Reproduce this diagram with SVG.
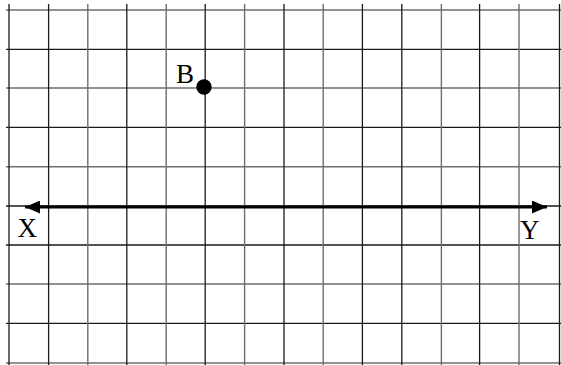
<svg xmlns="http://www.w3.org/2000/svg" width="561" height="365" viewBox="0 0 561 365">
<style>
.d{stroke:#1a1a1a;stroke-width:1.3}
.g{stroke:#6e6e6e;stroke-width:1.4}
.lbl{font-family:"Liberation Serif",serif;font-size:27px;fill:#000}
</style>
<defs>
<marker id="ah" markerWidth="16" markerHeight="13" refX="15" refY="6.5" orient="auto-start-reverse" markerUnits="userSpaceOnUse">
<path d="M0,0 L15,6.5 L0,13 Z" fill="#000"/>
</marker>
</defs>
<rect width="561" height="365" fill="#fff"/>
<g id="grid">
<line class="g" x1="6" y1="10" x2="561" y2="10"/>
<line class="d" x1="6" y1="49.3" x2="561" y2="49.3"/>
<line class="g" x1="6" y1="88" x2="561" y2="88"/>
<line class="d" x1="6" y1="127.3" x2="561" y2="127.3"/>
<line class="g" x1="6" y1="166.7" x2="561" y2="166.7"/>
<line class="d" x1="6" y1="206" x2="561" y2="206"/>
<line class="d" x1="6" y1="245" x2="561" y2="245"/>
<line class="g" x1="6" y1="284" x2="561" y2="284"/>
<line class="d" x1="6" y1="323.3" x2="561" y2="323.3"/>
<line class="g" x1="6" y1="363" x2="561" y2="363"/>
<line class="d" x1="9" y1="4" x2="9" y2="365"/>
<line class="d" x1="48.6" y1="4" x2="48.6" y2="365"/>
<line class="g" x1="87.8" y1="4" x2="87.8" y2="365"/>
<line class="d" x1="126.8" y1="4" x2="126.8" y2="365"/>
<line class="g" x1="166.2" y1="4" x2="166.2" y2="365"/>
<line class="d" x1="205.2" y1="4" x2="205.2" y2="365"/>
<line class="g" x1="244.6" y1="4" x2="244.6" y2="365"/>
<line class="d" x1="284" y1="4" x2="284" y2="365"/>
<line class="g" x1="323.2" y1="4" x2="323.2" y2="365"/>
<line class="d" x1="362.4" y1="4" x2="362.4" y2="365"/>
<line class="d" x1="401.8" y1="4" x2="401.8" y2="365"/>
<line class="g" x1="441.4" y1="4" x2="441.4" y2="365"/>
<line class="d" x1="479.6" y1="4" x2="479.6" y2="365"/>
<line class="g" x1="519" y1="4" x2="519" y2="365"/>
<line class="d" x1="559.5" y1="4" x2="559.5" y2="365"/>
</g>
<g id="connectors">
<line x1="25" y1="207" x2="547" y2="207" stroke="#000" stroke-width="3.2" marker-start="url(#ah)" marker-end="url(#ah)"/>
</g>
<g id="point-B">
<circle cx="204" cy="87" r="7.7" fill="#000"/>
<text class="lbl" x="176" y="83">B</text>
</g>
<g id="label-X">
<text class="lbl" x="17.5" y="237">X</text>
</g>
<g id="label-Y">
<text class="lbl" x="520" y="238.5">Y</text>
</g>
</svg>
